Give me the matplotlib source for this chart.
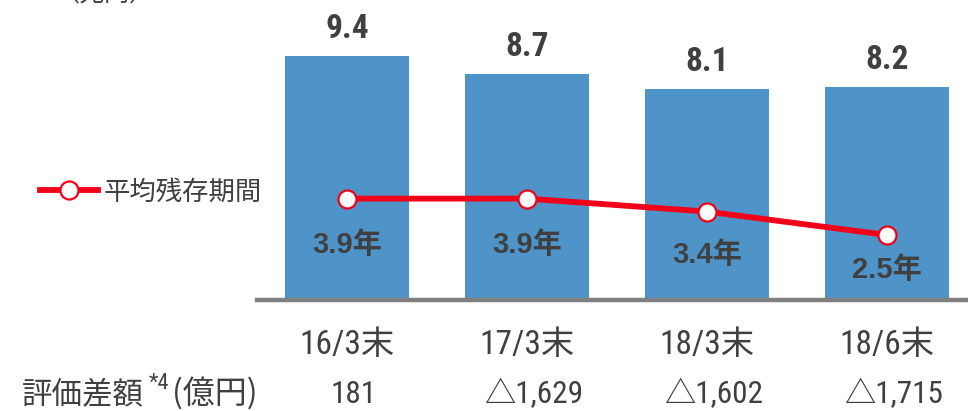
import matplotlib
matplotlib.use("Agg")
import matplotlib.pyplot as plt
from matplotlib import font_manager

# ---- data ----
periods = ["16/3末", "17/3末", "18/3末", "18/6末"]
balance = [9.4, 8.7, 8.1, 8.2]            # 兆円
avg_maturity = [3.9, 3.9, 3.4, 2.5]       # 年
valuation_diff = ["181", "△1,629", "△1,602", "△1,715"]  # 億円

# ---- fonts: prefer a condensed face for figures ----
CJK = "Noto Sans CJK JP"
names = {f.name for f in font_manager.fontManager.ttflist}
if "Roboto Condensed" in names:
    NARROW = dict(family=["Roboto Condensed", CJK])
elif "Liberation Sans Narrow" in names:
    NARROW = dict(family=["Liberation Sans Narrow", CJK])
else:
    NARROW = dict(family=["Liberation Sans", CJK])
REG = dict(family=["Liberation Sans", CJK])

TXT = "#404040"
BAR = "#4F94C8"
RED = "#F20019"

W, H = 968, 411
fig = plt.figure(figsize=(W / 100, H / 100), dpi=100)

ax_left, ax_bottom = 257, 300     # px (bottom measured from the top)
ax = fig.add_axes([ax_left / W, (H - ax_bottom) / H, (W - ax_left) / W, ax_bottom / H])

x = list(range(len(periods)))
ax.bar(x, balance, width=0.685, color=BAR, zorder=1)
ax.set_xlim(-0.5, -0.5 + (W - ax_left) / 180)
ax.set_ylim(0, ax_bottom / 26.0)

# bar value labels
for xi, v in zip(x, balance):
    ax.annotate(f"{v:.1f}", (xi, v), xytext=(0, 13), textcoords="offset points",
                ha="center", va="baseline", fontsize=24, fontweight="bold",
                color=TXT, **NARROW)

# average remaining maturity line
ax.plot(x, avg_maturity, color=RED, lw=4.2, marker="o", ms=13,
        mfc="white", mec=RED, mew=1.6, zorder=3, label="平均残存期間")

label_drop = [46, 46, 43, 35]  # px below each point
for xi, v, d in zip(x, avg_maturity, label_drop):
    ax.annotate(f"{v:.1f}年", (xi, v), xytext=(0, -d * 0.72), textcoords="offset points",
                ha="center", va="center", fontsize=21, fontweight="bold",
                color=TXT, **REG)

# axes cosmetics
for s in ("top", "right", "left"):
    ax.spines[s].set_visible(False)
ax.spines["bottom"].set_color("#808080")
ax.spines["bottom"].set_linewidth(3.2)
ax.spines["bottom"].set_zorder(4)
ax.set_yticks([])
ax.set_xticks(x)
ax.set_xticklabels(periods, fontsize=24, color=TXT, **NARROW)
ax.tick_params(axis="x", length=0, pad=21)

# valuation difference row
base = 1 - 403 / H
for xi, s in zip(x, valuation_diff):
    ax.annotate(s, (xi, base), xycoords=("data", "figure fraction"),
                xytext=(7 * 0.72, 0), textcoords="offset points",
                ha="center", va="baseline", fontsize=22.5, color=TXT, **NARROW)

fig.text(22 / W, base, "評価差額", fontsize=22, color=TXT, family=[CJK],
         va="baseline", ha="left")
fig.text(149 / W, 1 - 383 / H, "*4", fontsize=16, color=TXT,
         va="center", ha="left", **NARROW)
fig.text(172 / W, base, "(億円)", fontsize=23, color=TXT, family=[CJK],
         va="baseline", ha="left")

# unit label at top-left
fig.text(55 / W, 1 - 1 / H, "（兆円）", fontsize=18, color=TXT, family=[CJK],
         va="baseline", ha="left")

# legend
fig.legend(loc="center left", bbox_to_anchor=(40 / W, 1 - 192 / H),
           frameon=False, borderpad=0, borderaxespad=0,
           handlelength=2.2, handletextpad=0.2,
           prop={"family": CJK, "size": 19}, labelcolor=TXT)

fig.savefig("out.png", dpi=100)
